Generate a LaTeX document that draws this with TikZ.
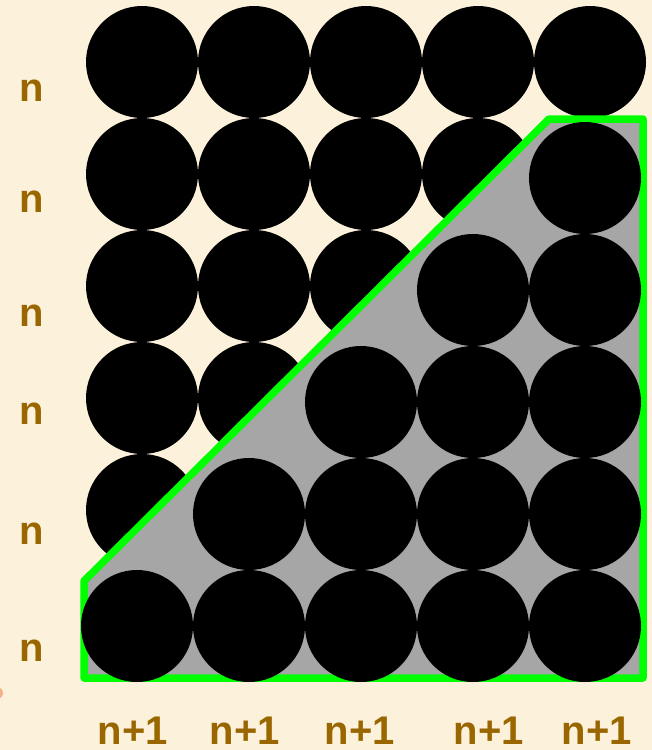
\documentclass[tikz,border=0pt]{standalone}
\usepackage{fontspec}
\setmainfont{Liberation Sans}
\definecolor{bgc}{HTML}{FCF1DB}
\definecolor{labc}{HTML}{996600}
\definecolor{grayfill}{HTML}{A6A6A6}
\definecolor{greenline}{HTML}{00FF00}
\definecolor{salmon}{HTML}{F2A07A}
\tikzset{
  dot/.style={circle, fill=black, minimum size=112pt, inner sep=0pt},
  lab/.style={text=labc, font=\fontsize{40}{40}\selectfont\bfseries, inner sep=0pt, anchor=base},
  region/.style={fill=grayfill, draw=greenline, line width=7.5pt, line join=round}
}
\begin{document}
\begin{tikzpicture}[x=1pt, y=-1pt]
\fill[bgc] (0,0) rectangle (652,750);
\useasboundingbox (0,0) rectangle (652,750);
% small mark at left edge
\fill[salmon, opacity=0.8] (-3,693) circle (6);
% upper staircase
\foreach \r in {0,...,5}{
  \foreach \c in {0,...,4}{
    \pgfmathtruncatemacro{\s}{\r+\c}
    \ifnum\s<5
      \node[dot] (u\r\c) at ({142+112*\c},{62+112*\r}) {};
    \fi
  }
}
% gray region
\coordinate (p1) at (84,581);
\coordinate (p2) at (549,119);
\coordinate (p3) at (643,119);
\coordinate (p4) at (643,678);
\coordinate (p5) at (84,678);
\draw[region] (p1) -- (p2) -- (p3) -- (p4) -- (p5) -- cycle;
% lower staircase
\foreach \r in {1,...,5}{
  \foreach \c in {0,...,4}{
    \pgfmathtruncatemacro{\s}{\r+\c}
    \ifnum\s>4
      \node[dot] (l\r\c) at ({137+112*\c},{66+112*\r}) {};
    \fi
  }
}
% row labels
\foreach \y [count=\i] in {101,212,326,424,544,661}{
  \node[lab] (rl\i) at (32,\y) {n};
}
% column labels
\foreach \x [count=\i] in {133,245,360,489,597}{
  \node[lab] (cl\i) at (\x,744) {n+1};
}
\end{tikzpicture}
\end{document}
